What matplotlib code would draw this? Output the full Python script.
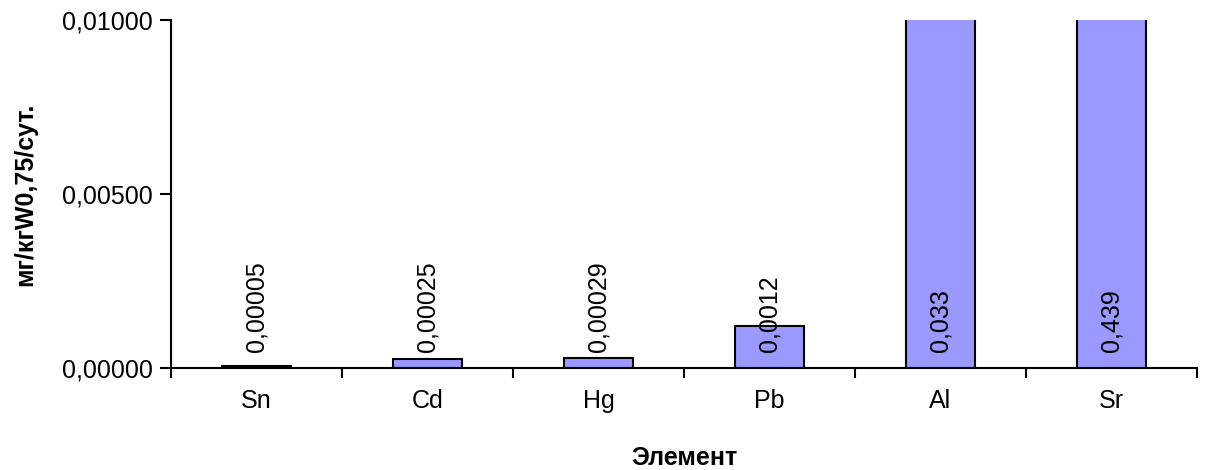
import numpy as np
import matplotlib
matplotlib.use("Agg")
import matplotlib.pyplot as plt
from matplotlib.ticker import FuncFormatter

plt.rcParams['font.family'] = ['Liberation Sans', 'DejaVu Sans']

# данные
elements = ['Sn', 'Cd', 'Hg', 'Pb', 'Al', 'Sr']
values = [0.00005, 0.00025, 0.00029, 0.0012, 0.033, 0.439]
value_labels = ['0,00005', '0,00025', '0,00029', '0,0012', '0,033', '0,439']

fig = plt.figure(figsize=(12.05, 4.70), dpi=100)
ax = fig.add_axes([171 / 1205, 102 / 470, 1026 / 1205, 348 / 470])

x = np.arange(len(elements))
ax.bar(x, values, width=0.4, color='#9999FF', edgecolor='black', linewidth=1.5, zorder=2)

ymax = 0.01
ax.set_ylim(0, ymax)
ax.set_xlim(-0.5, len(elements) - 0.5)

# подписи значений, повернутые на 90 градусов
for xi, lab in zip(x, value_labels):
    ax.text(xi, 0.00045, lab, rotation=90, ha='center', va='bottom',
            fontsize=18, color='black', zorder=3)

ax.set_yticks([0, 0.005, 0.01])
ax.yaxis.set_major_formatter(FuncFormatter(lambda v, p: f"{v:.5f}".replace('.', ',')))

# засечки на границах категорий, подписи по центру
ax.set_xticks(np.arange(-0.5, len(elements)), minor=False)
ax.set_xticklabels([])
ax.set_xticks(x, minor=True)
ax.set_xticklabels(elements, minor=True)
ax.tick_params(axis='x', which='major', direction='out', length=7, width=1.5)
ax.tick_params(axis='x', which='minor', length=0, pad=15, labelsize=18)
ax.tick_params(axis='y', direction='out', length=8, width=1.5, labelsize=18, pad=5)

for side in ['top', 'right']:
    ax.spines[side].set_visible(False)
for side in ['left', 'bottom']:
    ax.spines[side].set_linewidth(1.5)

ax.set_ylabel('мг/кгW0,75/сут.', fontsize=18, fontweight='bold', labelpad=18)
ax.set_xlabel('Элемент', fontsize=18, fontweight='bold', labelpad=24)

fig.savefig('out.png', dpi=100)
